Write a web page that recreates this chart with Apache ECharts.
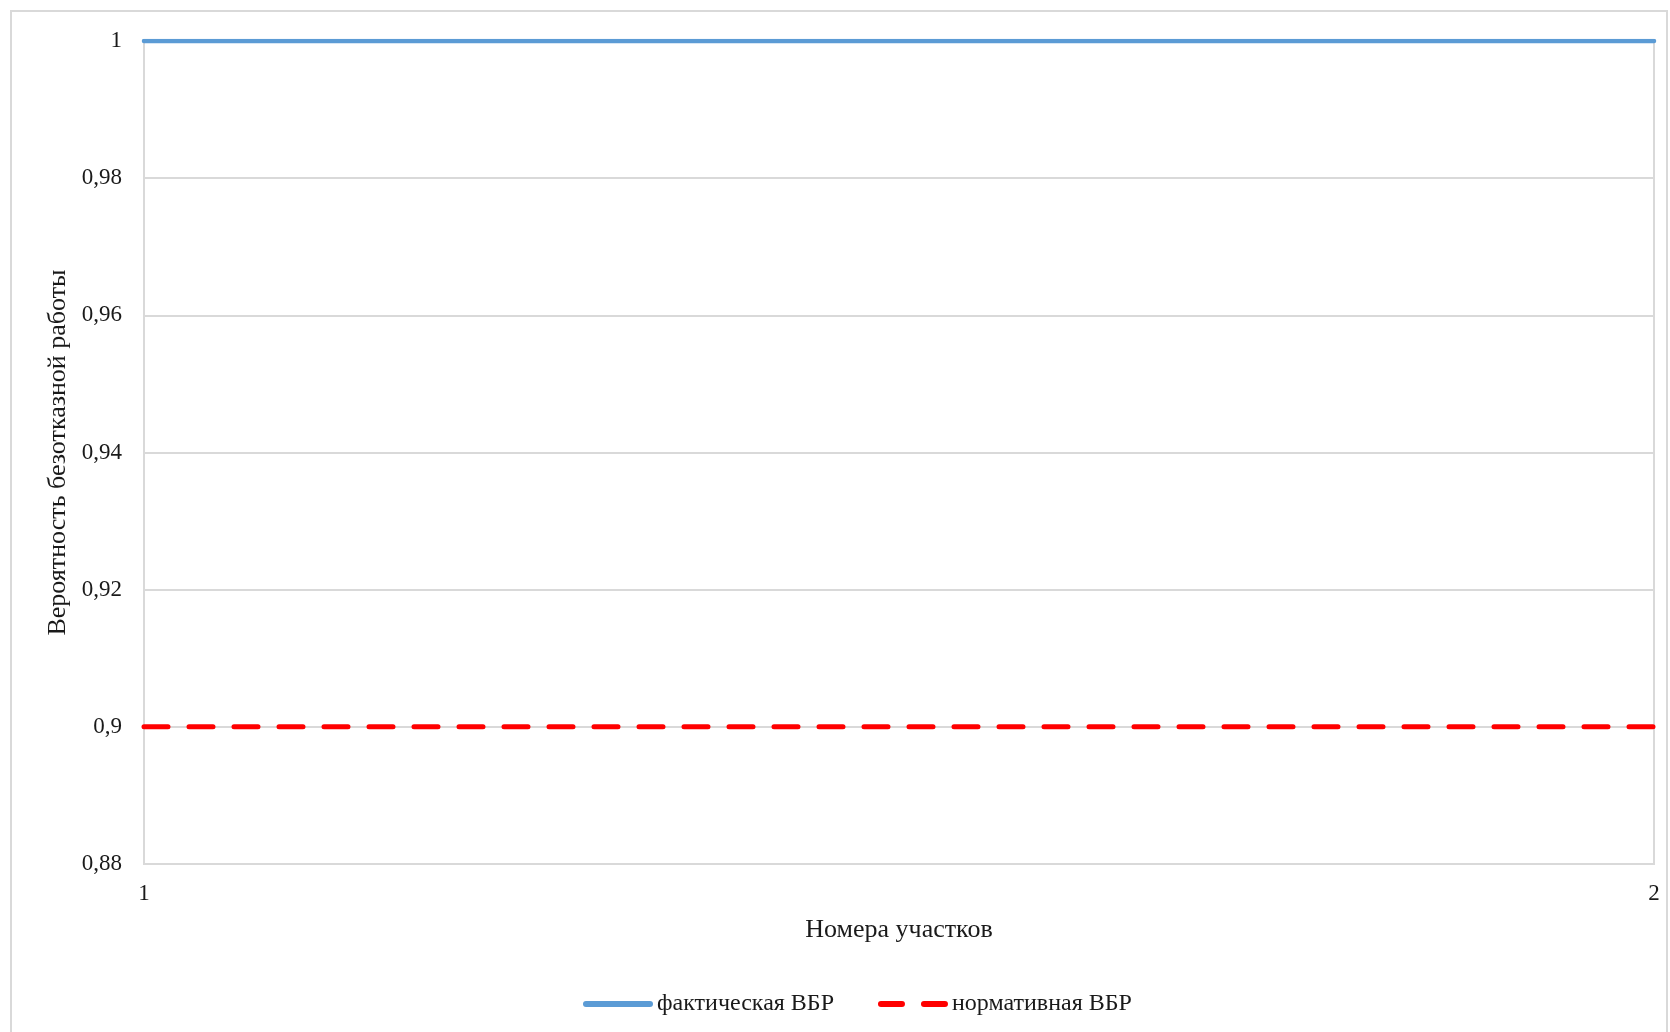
<!DOCTYPE html>
<html>
<head>
<meta charset="utf-8">
<title>ВБР</title>
<script src="https://cdn.jsdelivr.net/npm/echarts@6/dist/echarts.min.js"></script>
<style>
html, body { margin: 0; padding: 0; background: #fff; }
#chart { width: 1670px; height: 1032px; }
</style>
</head>
<body>
<div id="chart"></div>
<script>
// участки (ось X)
var sections = [1, 2];
// фактическая вероятность безотказной работы
var actual = [1, 1];
// нормативная вероятность безотказной работы
var normative = [0.9, 0.9];
var seriesNames = ['фактическая ВБР', 'нормативная ВБР'];

var font = '"Liberation Serif", "DejaVu Serif", serif';

function pairs(xs, ys) {
    var out = [];
    for (var i = 0; i < xs.length; i++) out.push([xs[i], ys[i]]);
    return out;
}

var chart = echarts.init(document.getElementById('chart'));
var option = {
    animation: false,
    backgroundColor: '#fff',
    graphic: [{
        type: 'rect',
        shape: { x: 11, y: 11, width: 1656, height: 1030 },
        style: { fill: 'none', stroke: '#d9d9d9', lineWidth: 2 },
        silent: true
    }],
    grid: {
        left: 144,
        right: 16,
        top: 41,
        bottom: 168,
        show: true,
        borderColor: '#d9d9d9',
        borderWidth: 2
    },
    legend: {
        top: 987,
        left: 578,
        itemWidth: 70,
        itemHeight: 6,
        itemGap: 44,
        textStyle: { fontFamily: font, fontSize: 24, color: '#1a1a1a', padding: [0, 0, 0, -1] },
        data: [
            { name: seriesNames[0], icon: 'path://M3,0L67,0A3,3,0,0,1,67,6L3,6A3,3,0,0,1,3,0Z' },
            { name: seriesNames[1], icon: 'path://M3,0L24,0A3,3,0,0,1,24,6L3,6A3,3,0,0,1,3,0Z M46,0L67,0A3,3,0,0,1,67,6L46,6A3,3,0,0,1,46,0Z' }
        ]
    },
    xAxis: {
        type: 'value',
        min: 1,
        max: 2,
        interval: 1,
        name: 'Номера участков',
        nameLocation: 'middle',
        nameGap: 53,
        nameTextStyle: { fontFamily: font, fontSize: 26, color: '#1a1a1a' },
        axisLine: { show: true, lineStyle: { color: '#d9d9d9', width: 2 } },
        axisTick: { show: false },
        splitLine: { show: false },
        axisLabel: { fontFamily: font, fontSize: 23, color: '#1a1a1a', margin: 18 }
    },
    yAxis: {
        type: 'value',
        min: 0.88,
        max: 1,
        interval: 0.02,
        name: 'Вероятность безотказной работы',
        nameLocation: 'middle',
        nameGap: 62,
        nameTextStyle: { fontFamily: font, fontSize: 26, color: '#1a1a1a' },
        axisLine: { show: false },
        axisTick: { show: false },
        splitLine: { show: true, lineStyle: { color: '#d9d9d9', width: 2 } },
        axisLabel: {
            fontFamily: font, fontSize: 23, color: '#1a1a1a', margin: 22,
            formatter: function (v) {
                return String(parseFloat(v.toFixed(2))).replace('.', ',');
            }
        }
    },
    series: [{
        name: seriesNames[0],
        type: 'line',
        data: pairs(sections, actual),
        symbol: 'none',
        color: '#5b9bd5',
        lineStyle: { color: '#5b9bd5', width: 4.5, cap: 'round' }
    }, {
        name: seriesNames[1],
        type: 'line',
        data: pairs(sections, normative),
        symbol: 'none',
        color: '#ff0000',
        lineStyle: { color: '#ff0000', width: 5, type: [24, 21], cap: 'round' }
    }]
};
chart.setOption(option);
window.onresize = function () { chart.resize(); };
</script>
</body>
</html>
